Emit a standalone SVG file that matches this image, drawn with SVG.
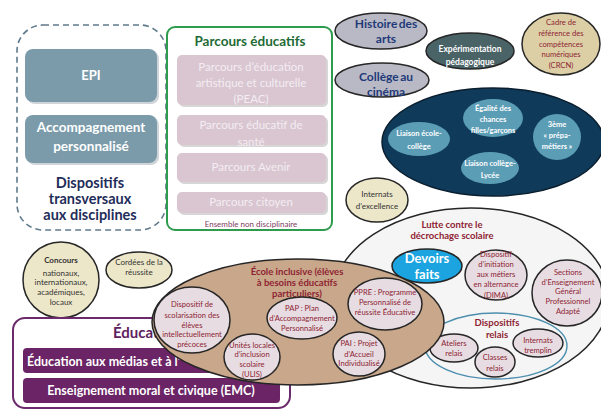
<svg xmlns="http://www.w3.org/2000/svg" width="601" height="409" viewBox="0 0 601 409">
<defs>
<style>
text{font-family:Lato,'Open Sans','Liberation Sans',sans-serif}
.c{text-anchor:middle}
.b{font-weight:bold}
.e{stroke:#262626;stroke-width:1.5}
.pk{fill:#e6dce2;stroke:#262626;stroke-width:1.5}
.rt{fill:#8e2433;font-size:7.6px}
.rtb{fill:#8e2433;font-size:9.5px;font-weight:bold}
.lb{fill:#5c9db6}
.wt{fill:#fff;font-weight:bold;font-size:7.5px}
.gb{fill:#7b9baa}
.pb{fill:#d9c6d1}
.pt{fill:#f4edf1;font-size:11.5px}
.dk{fill:#333;font-size:8px}
.bg{fill:#ede7c9}
.ht{fill:#1f3a78;font-size:12px;font-weight:bold;word-spacing:-1.5px}
</style>
</defs>
<rect width="601" height="409" fill="#fff"/>

<g id="dispositifs-transversaux">
<rect x="17" y="25" width="149" height="205" rx="26" fill="none" stroke="#5f7a8c" stroke-width="1.6" stroke-dasharray="6 4"/>
<rect x="27" y="51" width="132" height="53" rx="8" fill="#cfd4d8"/>
<rect x="25" y="49" width="132" height="53" rx="8" class="gb"/>
<text x="91" y="80" class="c b" font-size="13" fill="#fff">EPI</text>
<rect x="27" y="117" width="132" height="48" rx="8" fill="#cfd4d8"/>
<rect x="25" y="115" width="132" height="48" rx="8" class="gb"/>
<text x="91" y="132" class="c b" font-size="13.5" fill="#fff">Accompagnement</text>
<text x="91" y="151" class="c b" font-size="13.5" fill="#fff">personnalisé</text>
<text x="90" y="188" class="c b" font-size="14.5" fill="#1f2d5a">Dispositifs</text>
<text x="90" y="204" class="c b" font-size="14.5" fill="#1f2d5a">transversaux</text>
<text x="90" y="220" class="c b" font-size="14.5" fill="#1f2d5a">aux disciplines</text>
</g>

<g id="parcours-educatifs">
<rect x="167" y="27" width="165" height="203" rx="8" fill="#fff" stroke="#2e9c4c" stroke-width="2"/>
<text x="250" y="46" class="c b" font-size="13.5" fill="#1e6b35">Parcours  éducatifs</text>
<rect x="179" y="57" width="149" height="50" rx="5" fill="#d6d6d6"/>
<rect x="177" y="55" width="149" height="50" rx="5" class="pb"/>
<text x="251" y="71" class="c pt">Parcours d’éducation</text>
<text x="251" y="87" class="c pt">artistique et culturelle</text>
<text x="251" y="103" class="c pt">(PEAC)</text>
<rect x="179" y="117" width="149" height="30" rx="5" fill="#d6d6d6"/>
<rect x="177" y="115" width="149" height="30" rx="5" class="pb"/>
<text x="251" y="129" class="c pt">Parcours éducatif de</text>
<text x="251" y="146" class="c pt">santé</text>
<rect x="179" y="155" width="149" height="29" rx="5" fill="#d6d6d6"/>
<rect x="177" y="153" width="149" height="29" rx="5" class="pb"/>
<text x="251" y="171" class="c pt">Parcours Avenir</text>
<rect x="179" y="194" width="149" height="21" rx="5" fill="#d6d6d6"/>
<rect x="177" y="192" width="149" height="21" rx="5" class="pb"/>
<text x="251" y="206" class="c pt">Parcours citoyen</text>
<text x="251" y="227" class="c" font-size="8" fill="#7d3d62">Ensemble non disciplinaire</text>
</g>

<g id="histoire-des-arts">
<ellipse cx="381" cy="31" rx="46" ry="18" fill="#b9b9c6" class="e"/>
<text x="386" y="28" class="c ht">Histoire des</text>
<text x="386" y="43" class="c ht">arts</text>
</g>

<g id="college-au-cinema">
<ellipse cx="382" cy="80" rx="47" ry="17" fill="#b9b9c6" class="e"/>
<text x="386" y="81" class="c ht">Collège au</text>
<text x="386" y="96" class="c ht">cinéma</text>
</g>

<g id="experimentation">
<ellipse cx="470" cy="51" rx="44" ry="18" fill="#4a6367" class="e"/>
<text x="470" y="52" class="c b" font-size="8.5" fill="#fff">Expérimentation</text>
<text x="470" y="65" class="c b" font-size="8.5" fill="#fff">pédagogique</text>
</g>

<g id="crcn">
<ellipse cx="561" cy="44" rx="39" ry="31" fill="#dccfa5" class="e"/>
<text x="561" y="25" class="c rt">Cadre de</text>
<text x="561" y="36" class="c rt">référence des</text>
<text x="561" y="47" class="c rt">compétences</text>
<text x="561" y="57" class="c rt">numériques</text>
<text x="561" y="68" class="c rt">(CRCN)</text>
</g>

<g id="liaisons">
<ellipse cx="493" cy="142" rx="111" ry="54" fill="#0f3a59" stroke="#0a1e2e" stroke-width="1.5"/>
<g id="liaison-ecole-college">
<ellipse cx="419" cy="139" rx="31" ry="17" class="lb"/>
<text x="419" y="136" class="c wt">Liaison école-</text>
<text x="419" y="149" class="c wt">collège</text>
</g>
<g id="egalite">
<ellipse cx="493" cy="118" rx="30" ry="19" class="lb"/>
<text x="493" y="111" class="c wt">Égalité des</text>
<text x="493" y="122" class="c wt">chances</text>
<text x="493" y="133" class="c wt">filles/garçons</text>
</g>
<g id="prepa-metiers">
<ellipse cx="557" cy="137" rx="24" ry="23" class="lb"/>
<text x="557" y="127" class="c wt">3ème</text>
<text x="557" y="138" class="c wt">« prépa-</text>
<text x="557" y="149" class="c wt">métiers »</text>
</g>
<g id="liaison-college-lycee">
<ellipse cx="490" cy="168" rx="29" ry="16" class="lb"/>
<text x="490" y="166" class="c wt">Liaison collège-</text>
<text x="490" y="178" class="c wt">Lycée</text>
</g>
</g>

<g id="internats-excellence">
<ellipse cx="377" cy="200" rx="31" ry="22" class="bg e"/>
<text x="377" y="197" class="c dk" font-size="7.6">Internats</text>
<text x="377" y="209" class="c dk" font-size="7.6">d’excellence</text>
</g>

<g id="lutte-decrochage">
<ellipse cx="471" cy="298" rx="138" ry="90" fill="#f5f5f5" class="e"/>
<text x="452" y="228" class="c rtb">Lutte contre le</text>
<text x="452" y="239" class="c rtb">décrochage scolaire</text>
<g id="devoirs-faits">
<ellipse cx="427" cy="266" rx="35" ry="17" fill="#1ba4e0" class="e"/>
<text x="427" y="263" class="c b" font-size="13" fill="#fff">Devoirs</text>
<text x="427" y="279" class="c b" font-size="13" fill="#fff">faits</text>
</g>
<g id="dima">
<ellipse cx="496" cy="275" rx="31" ry="25" class="pk"/>
<text x="496" y="257" class="c rt">Dispositif</text>
<text x="496" y="267" class="c rt">d’initiation</text>
<text x="496" y="277" class="c rt">aux métiers</text>
<text x="496" y="287" class="c rt">en alternance</text>
<text x="496" y="298" class="c rt">(DIMA)</text>
</g>
<g id="segpa">
<ellipse cx="567" cy="293" rx="35" ry="33" class="pk"/>
<text x="568" y="275" class="c rt">Sections</text>
<text x="568" y="285" class="c rt">d’Enseignement</text>
<text x="568" y="294" class="c rt">Général</text>
<text x="568" y="304" class="c rt">Professionnel</text>
<text x="568" y="314" class="c rt">Adapté</text>
</g>
<g id="dispositifs-relais">
<ellipse cx="496" cy="346" rx="71" ry="33" fill="none" stroke="#4d8fae" stroke-width="1.4"/>
<text x="497" y="326" class="c rtb">Dispositifs</text>
<text x="497" y="338" class="c rtb">relais</text>
<g id="ateliers-relais">
<ellipse cx="454" cy="348" rx="24" ry="14" class="pk"/>
<text x="454" y="346" class="c rt">Ateliers</text>
<text x="454" y="356" class="c rt">relais</text>
</g>
<g id="classes-relais">
<ellipse cx="495" cy="362" rx="20" ry="15" class="pk"/>
<text x="495" y="360" class="c rt">Classes</text>
<text x="495" y="371" class="c rt">relais</text>
</g>
<g id="internats-tremplin">
<ellipse cx="538" cy="343" rx="25" ry="14" class="pk"/>
<text x="538" y="343" class="c rt">Internats</text>
<text x="538" y="353" class="c rt">tremplin</text>
</g>
</g>
</g>

<g id="concours">
<circle cx="61" cy="280" r="38" class="bg e"/>
<text x="61" y="263" class="c dk b">Concours</text>
<text x="61" y="276" class="c dk">nationaux,</text>
<text x="61" y="285" class="c dk">internationaux,</text>
<text x="61" y="295" class="c dk">académiques,</text>
<text x="61" y="305" class="c dk">locaux</text>
</g>

<g id="cordees">
<ellipse cx="139" cy="270" rx="33" ry="18" class="bg e"/>
<text x="139" y="265" class="c dk" font-size="7.6">Cordées de la</text>
<text x="139" y="275" class="c dk" font-size="7.6">réussite</text>
</g>

<g id="education">
<rect x="13" y="318" width="277" height="90" rx="12" fill="#fff" stroke="#6b2a6b" stroke-width="2"/>
<text x="113" y="338" class="b" font-size="15" fill="#5e2260">Éducat</text>
<rect x="23" y="348" width="257" height="25" rx="4" fill="#6b2466"/>
<text x="27" y="366" class="b" font-size="12.5" fill="#fff">Éducation aux médias et à l’</text>
<rect x="23" y="378" width="257" height="25" rx="4" fill="#6b2466"/>
<text x="151" y="395" class="c b" font-size="12.5" fill="#fff">Enseignement moral et civique (EMC)</text>
</g>

<g id="ecole-inclusive">
<ellipse cx="298" cy="322" rx="146" ry="63" fill="#c9a78a" class="e"/>
<text x="297" y="275" class="c rtb">École inclusive (élèves</text>
<text x="297" y="286" class="c rtb">à besoins éducatifs</text>
<text x="297" y="297" class="c rtb">particuliers)</text>
<g id="precoces">
<ellipse cx="192" cy="320" rx="38" ry="33" class="pk"/>
<text x="192" y="307" class="c rt">Dispositif de</text>
<text x="192" y="318" class="c rt">scolarisation des</text>
<text x="192" y="328" class="c rt">élèves</text>
<text x="192" y="337" class="c rt">intellectuellement</text>
<text x="192" y="347" class="c rt">précoces</text>
</g>
<g id="ulis">
<ellipse cx="252" cy="357" rx="28" ry="23" class="pk"/>
<text x="252" y="348" class="c rt">Unités locales</text>
<text x="252" y="357" class="c rt">d’inclusion</text>
<text x="252" y="367" class="c rt">scolaire</text>
<text x="252" y="377" class="c rt">(ULIS)</text>
</g>
<g id="pap">
<ellipse cx="302" cy="318" rx="35" ry="21" class="pk"/>
<text x="302" y="311" class="c rt">PAP : Plan</text>
<text x="302" y="321" class="c rt">d’Accompagnement</text>
<text x="302" y="331" class="c rt">Personnalisé</text>
</g>
<g id="ppre">
<ellipse cx="385" cy="304" rx="37" ry="26" class="pk"/>
<text x="385" y="295" class="c rt">PPRE : Programme</text>
<text x="385" y="305" class="c rt">Personnalisé de</text>
<text x="385" y="315" class="c rt">réussite Éducative</text>
</g>
<g id="pai">
<ellipse cx="359" cy="354" rx="26" ry="22" class="pk"/>
<text x="359" y="346" class="c rt">PAI : Projet</text>
<text x="359" y="357" class="c rt">d’Accueil</text>
<text x="359" y="366" class="c rt">Individualisé</text>
</g>
</g>
<g id="connectors"/>
</svg>
